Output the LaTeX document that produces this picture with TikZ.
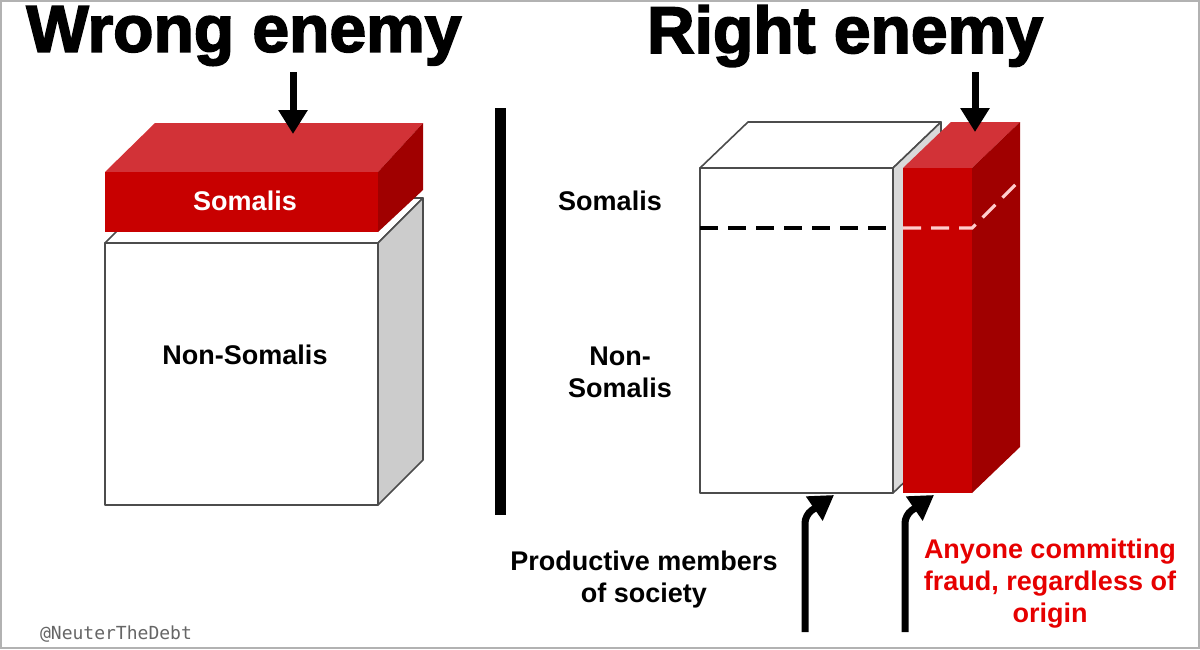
\documentclass[tikz,border=0pt]{standalone}
\usepackage{fontspec}
\setmainfont{Liberation Sans}
\setmonofont{DejaVu Sans Mono}
\newfontfamily\heavyfont[FakeBold=2.5]{Liberation Sans Bold}
\usetikzlibrary{arrows.meta}
\definecolor{redF}{RGB}{200,0,0}
\definecolor{redT}{RGB}{210,50,55}
\definecolor{redS}{RGB}{160,0,0}
\definecolor{txtred}{RGB}{230,0,0}
\tikzset{
  edge/.style={draw=black!70,line width=0.8pt,line join=round},
  lbl/.style={font=\bfseries\fontsize{13.5}{16}\selectfont,align=center,inner sep=0},
  ttl/.style={font=\heavyfont\fontsize{33}{36}\selectfont,inner sep=0},
  bigarrow/.style={line width=3.5pt,-{Triangle[length=12pt,width=14pt]}},
}
\begin{document}
\begin{tikzpicture}[x=0.5pt,y=-0.5pt]
\useasboundingbox (0,0) rectangle (1200,649);
\fill[white] (0,0) rectangle (1200,649);
\draw[black!30,line width=0.6pt] (1,1) rectangle (1199,648);
% titles
\node[ttl] (t1) at (244,36) {Wrong enemy};
\node[ttl] (t2) at (845,36) {Right enemy};
% left white box
\filldraw[edge,fill=white] (105,243) -- (150,198) -- (423,198) -- (378,243) -- cycle;
\filldraw[edge,fill=black!20] (378,243) -- (423,198) -- (423,460) -- (378,505) -- cycle;
\filldraw[edge,fill=white] (105,243) rectangle (378,505);
% left red slab
\fill[redT] (105,172) -- (155,123) -- (423,123) -- (378,172) -- cycle;
\fill[redS] (378,172) -- (423,123) -- (423,190) -- (378,232) -- cycle;
\fill[redF] (105,172) rectangle (378,232);
\node[lbl,text=white] (s1) at (245,201) {Somalis};
\node[lbl] (n1) at (245,355) {Non-Somalis};
\coordinate (a1s) at (293,72);
\coordinate (a1e) at (293,134);
\draw[bigarrow] (a1s) -- (a1e);
% divider
\fill[black] (495,108) rectangle (506,515);
% right white box
\filldraw[edge,fill=white] (700,168) -- (748,122) -- (941,122) -- (893,168) -- cycle;
\filldraw[edge,fill=black!15] (893,168) -- (941,122) -- (941,447) -- (893,493) -- cycle;
\filldraw[edge,fill=white] (700,168) rectangle (893,493);
% red column
\fill[redT] (903,168) -- (951,122) -- (1020,122) -- (972,168) -- cycle;
\fill[redS] (972,168) -- (1020,122) -- (1020,447) -- (972,493) -- cycle;
\fill[redF] (903,168) rectangle (972,493);
\coordinate (d1) at (700,228); \coordinate (d2) at (893,228);
\coordinate (d3) at (903,228); \coordinate (d4) at (972,228); \coordinate (d5) at (1020,180);
\draw[dashed,line width=1.6pt,dash pattern=on 9pt off 5pt] (d1) -- (d2);
\draw[pink!80,dashed,line width=1.6pt,dash pattern=on 9pt off 5pt] (d3) -- (d4) -- (d5);
\coordinate (a2s) at (975,72);
\coordinate (a2e) at (975,132);
\draw[bigarrow] (a2s) -- (a2e);
\node[lbl] (s2) at (610,201) {Somalis};
\node[lbl] (n2) at (620,372) {Non-\\Somalis};
% bottom arrows
\coordinate (b1s) at (805,632); \coordinate (b1m) at (805,515); \coordinate (b1e) at (834,495);
\coordinate (b2s) at (905,632); \coordinate (b2m) at (905,515); \coordinate (b2e) at (934,495);
\draw[bigarrow,rounded corners=4pt] (b1s) -- (b1m) -- (b1e);
\draw[bigarrow,rounded corners=4pt] (b2s) -- (b2m) -- (b2e);
\node[lbl] (p) at (644,580) {Productive members\\of society};
\node[lbl,text=txtred] (f) at (1050,584) {Anyone committing\\fraud, regardless of\\origin};
\node[font=\ttfamily\fontsize{9}{10}\selectfont,text=black!60,inner sep=0] (w) at (116,634) {@NeuterTheDebt};
\end{tikzpicture}
\end{document}
